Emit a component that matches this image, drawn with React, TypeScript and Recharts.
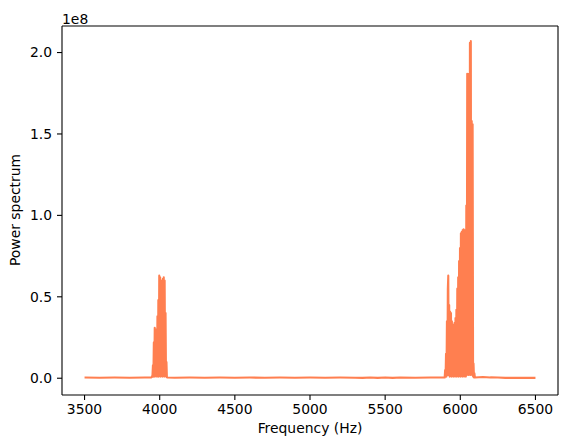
import { LineChart, Line, XAxis, YAxis, ReferenceLine } from 'recharts';

// Frequency (Hz) and power (units of 1e8)
const freqs = [
  3500, 3600, 3700, 3800, 3900, 3945, 3949,
  // cluster near 4000 Hz
  3952, 3955, 3958, 3961, 3964, 3967, 3970, 3973, 3976, 3979, 3982, 3985, 3988, 3991, 3994,
  3997, 4000, 4003, 4006, 4009, 4012, 4015, 4018, 4021, 4024, 4027, 4030, 4033, 4036, 4039,
  4042, 4045, 4048, 4052,
  4100, 4200, 4300, 4400, 4500, 4600, 4700, 4800, 4900, 5000, 5100, 5200, 5300, 5350,
  5400, 5450, 5500, 5550, 5600, 5700, 5800, 5890,
  // cluster near 6000 Hz
  5896, 5899, 5902, 5905, 5908, 5911, 5914, 5917, 5920, 5923, 5926, 5929, 5932, 5935, 5938,
  5941, 5944, 5947, 5950, 5953, 5956, 5959, 5962, 5965, 5968, 5971, 5974, 5977, 5980, 5983,
  5986, 5989, 5992, 5995, 5998, 6001, 6004, 6007, 6010, 6013, 6016, 6019, 6022, 6025, 6028,
  6031, 6034, 6037, 6040, 6043, 6046, 6049, 6052, 6055, 6058, 6061, 6064, 6067, 6070, 6073,
  6076, 6079, 6082, 6085, 6088, 6091, 6094, 6097,
  6150, 6200, 6250, 6300, 6400, 6500,
];

const power = [
  0.004, 0.003, 0.004, 0.003, 0.004, 0.005, 0.01,
  0.02, 0.08, 0.01, 0.22, 0.01, 0.31, 0.02, 0.30, 0.01, 0.28, 0.02, 0.38, 0.01, 0.48, 0.01,
  0.63, 0.02, 0.62, 0.01, 0.60, 0.02, 0.55, 0.01, 0.61, 0.02, 0.62, 0.01, 0.60, 0.02, 0.40,
  0.01, 0.10, 0.006, 0.004,
  0.003, 0.004, 0.003, 0.004, 0.003, 0.004, 0.003, 0.004, 0.003, 0.004, 0.003, 0.004, 0.003, 0.002,
  0.004, 0.002, 0.005, 0.002, 0.004, 0.003, 0.004, 0.004,
  0.004, 0.05, 0.01, 0.15, 0.01, 0.35, 0.02, 0.55, 0.63, 0.02, 0.45, 0.01, 0.41, 0.02, 0.40,
  0.01, 0.35, 0.02, 0.33, 0.01, 0.32, 0.02, 0.34, 0.01, 0.37, 0.02, 0.42, 0.01, 0.55, 0.02,
  0.62, 0.01, 0.72, 0.02, 0.80, 0.01, 0.89, 0.02, 0.90, 0.01, 0.91, 0.02, 0.915, 0.01, 0.90,
  0.02, 0.91, 0.01, 1.06, 0.02, 1.87, 0.03, 1.86, 0.02, 1.87, 0.03, 2.06, 0.02, 2.07, 0.03,
  1.58, 0.02, 1.56, 0.01, 0.09, 0.005, 0.03, 0.004,
  0.008, 0.005, 0.004, 0.002, 0.002, 0.002,
];

const xTicks = [3500, 4000, 4500, 5000, 5500, 6000, 6500];
const yTicks = [0, 0.5, 1.0, 1.5, 2.0];
const xDomain = [3350, 6650];
const yDomain = [-0.103, 2.163];

const data = freqs.map((f, i) => ({ f, p: power[i] }));

const font = '"DejaVu Sans", sans-serif';
const fontSize = 13.9;
const tickStyle = { fill: '#000', fontSize, fontFamily: font };
const textStyle = { position: 'absolute' as const, fontFamily: font, fontSize, lineHeight: 1, whiteSpace: 'nowrap' as const, color: '#000' };

export default function App() {
  return (
    <div style={{ position: 'absolute', left: 0, top: 0, width: 567, height: 448, background: '#fff' }}>
      <LineChart width={567} height={448} data={data} margin={{ top: 26, right: 9, bottom: 0, left: 0 }}>
        <XAxis
          dataKey="f"
          type="number"
          domain={xDomain}
          allowDataOverflow
          ticks={xTicks}
          height={53}
          tickSize={5}
          tickMargin={4}
          stroke="#000"
          strokeWidth={1.1}
          tick={tickStyle}
        />
        <YAxis
          type="number"
          domain={yDomain}
          allowDataOverflow
          ticks={yTicks}
          width={62}
          tickSize={5}
          tickMargin={5}
          stroke="#000"
          strokeWidth={1.1}
          tick={tickStyle}
          tickFormatter={(v: number) => v.toFixed(1)}
        />
        {/* top and right spines */}
        <ReferenceLine y={yDomain[1]} stroke="#000" strokeWidth={1.1} />
        <ReferenceLine x={xDomain[1]} stroke="#000" strokeWidth={1.1} />
        <Line
          type="linear"
          dataKey="p"
          stroke="#ff7f50"
          strokeWidth={2.08}
          strokeLinejoin="round"
          dot={false}
          isAnimationActive={false}
        />
      </LineChart>
      <div style={{ ...textStyle, left: 62, top: 13 }}>1e8</div>
      <div style={{ ...textStyle, left: 310, top: 422, transform: 'translateX(-50%)' }}>Frequency (Hz)</div>
      <div style={{ ...textStyle, left: 16, top: 210, transform: 'translate(-50%, -50%) rotate(-90deg)' }}>Power spectrum</div>
    </div>
  );
}
